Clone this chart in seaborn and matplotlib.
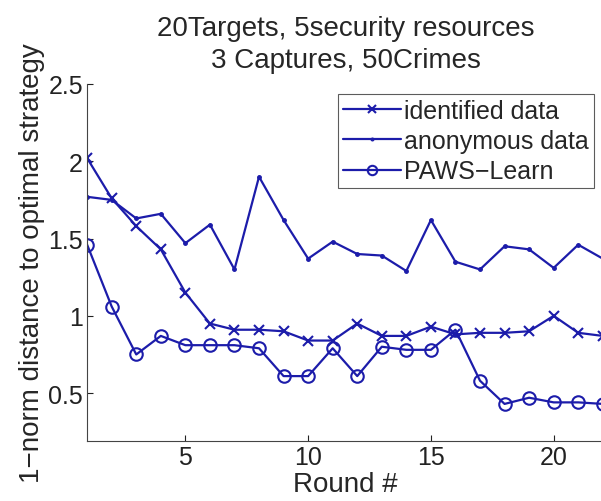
import matplotlib
matplotlib.use("Agg")
import matplotlib.pyplot as plt
import seaborn as sns
import pandas as pd
import numpy as np

# dados
rodadas = list(range(1, 23))
identified = [2.02, 1.76, 1.58, 1.43, 1.15, 0.95, 0.91, 0.91, 0.90, 0.84, 0.84,
              0.95, 0.87, 0.87, 0.93, 0.88, 0.89, 0.89, 0.90, 1.00, 0.89, 0.87]
anonymous = [1.77, 1.75, 1.63, 1.66, 1.47, 1.59, 1.30, 1.90, 1.62, 1.37, 1.48,
             1.40, 1.39, 1.29, 1.62, 1.35, 1.30, 1.45, 1.43, 1.31, 1.46, 1.37]
paws = [1.46, 1.06, 0.75, 0.87, 0.81, 0.81, 0.81, 0.79, 0.61, 0.61, 0.79,
        0.61, 0.80, 0.78, 0.78, 0.91, 0.58, 0.43, 0.47, 0.44, 0.44, 0.43]
nomes = ["identified data", "anonymous data", "PAWS\u2212Learn"]

df = pd.DataFrame({"Round": rodadas, nomes[0]: identified,
                   nomes[1]: anonymous, nomes[2]: paws})

sns.set_style("white")
plt.rcParams["font.family"] = ["Liberation Sans", "DejaVu Sans"]
azul = "#1c1caa"

fig = plt.figure(figsize=(6.01, 5.02), dpi=100)
ax = fig.add_axes([0.145, 0.1195, 0.86, 0.7112])

sns.lineplot(data=df, x="Round", y=nomes[0], ax=ax, color=azul, lw=1.6,
             marker="x", markersize=7, markeredgecolor=azul, markeredgewidth=1.5,
             label=nomes[0])
sns.lineplot(data=df, x="Round", y=nomes[1], ax=ax, color=azul, lw=1.6,
             marker=".", markersize=5, markeredgecolor=azul, markeredgewidth=1,
             label=nomes[1])
sns.lineplot(data=df, x="Round", y=nomes[2], ax=ax, color=azul, lw=1.6,
             marker="o", markersize=9, markerfacecolor="none",
             markeredgecolor=azul, markeredgewidth=1.5, label=nomes[2])

ax.set_xlim(1, 22.05)
ax.set_ylim(0.19, 2.5)
ax.set_xticks([5, 10, 15, 20])
ax.set_yticks([0.5, 1, 1.5, 2, 2.5])
ax.set_yticklabels(["0.5", "1", "1.5", "2", "2.5"])
ax.tick_params(direction="in", length=4, labelsize=18, colors="#222222",
               left=True, bottom=True, pad=3)
for s in ["top", "right"]:
    ax.spines[s].set_visible(False)
for s in ["left", "bottom"]:
    ax.spines[s].set_color("#444444")
    ax.spines[s].set_linewidth(0.8)

ax.set_xlabel("Round #", fontsize=20, labelpad=1)
ax.set_ylabel("1\u2212norm distance to optimal strategy", fontsize=20, labelpad=2)
ax.set_title("20Targets, 5security resources\n3 Captures, 50Crimes",
             fontsize=20, pad=12, linespacing=1.3)

leg = ax.legend(loc="upper right", fontsize=18, frameon=True, fancybox=False,
                handlelength=2.3, handletextpad=0.15, borderpad=0.2,
                labelspacing=0.25, borderaxespad=0.4, markerscale=0.75)
leg.get_frame().set_edgecolor("#333333")
leg.get_frame().set_linewidth(0.8)

fig.savefig("out.png", dpi=100)
